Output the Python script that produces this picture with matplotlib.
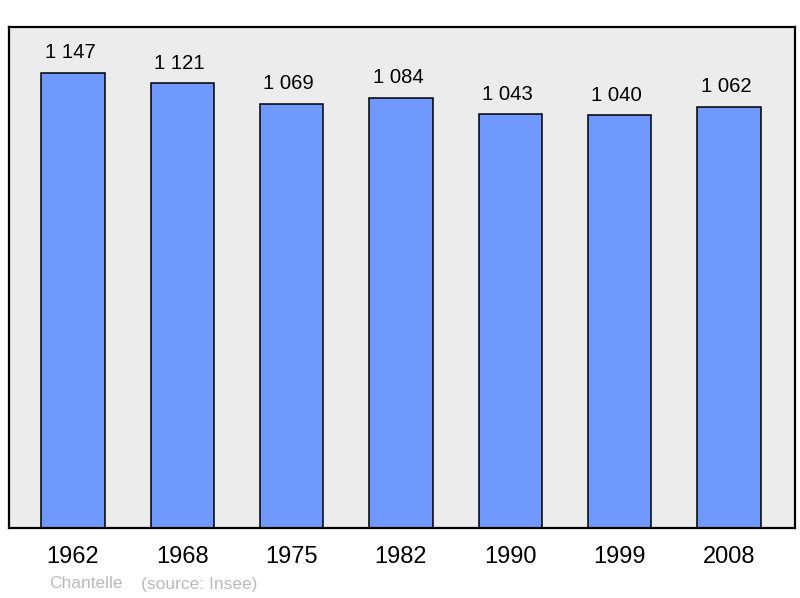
import matplotlib.pyplot as plt
import matplotlib.transforms as mtransforms

plt.rcParams['font.family'] = ['Liberation Sans', 'DejaVu Sans']

years = ["1962", "1968", "1975", "1982", "1990", "1999", "2008"]
population = [1147, 1121, 1069, 1084, 1043, 1040, 1062]
value_labels = ["1 147", "1 121", "1 069", "1 084", "1 043", "1 040", "1 062"]
commune = "Chantelle"
source = "(source: Insee)"

fig = plt.figure(figsize=(8, 5.98), dpi=100)
ax = fig.add_axes([9 / 800, 1 - 528 / 598, 786 / 800, 501 / 598])
ax.set_facecolor("#ececec")

x = range(len(years))
ax.bar(x, population, width=0.58, color="#7099ff", edgecolor="black", linewidth=1.1, zorder=2)

for i, (v, lab) in enumerate(zip(population, value_labels)):
    ax.annotate(lab, (i, v), xytext=(-2, 10.5), textcoords="offset points",
                ha="center", va="baseline", fontsize=14.6, color="black")

ax.set_xlim(-0.585, 6.605)
ax.set_ylim(0, 1263)
ax.set_xticks([])
ax.set_yticks([])
for s in ax.spines.values():
    s.set_linewidth(1.6)
    s.set_color("black")

trans = mtransforms.blended_transform_factory(ax.transData, fig.transFigure)
for i, yr in enumerate(years):
    ax.text(i, 1 - 557 / 598, yr, transform=trans, ha="center", va="center", fontsize=17)

fig.text(49 / 800, 1 - 584 / 598, commune, ha="left", va="center", fontsize=12.5, color="#bbbbbb")
fig.text(141 / 800, 1 - 584 / 598, source, ha="left", va="center", fontsize=12.5, color="#bbbbbb")

fig.savefig("out.png", dpi=100)
